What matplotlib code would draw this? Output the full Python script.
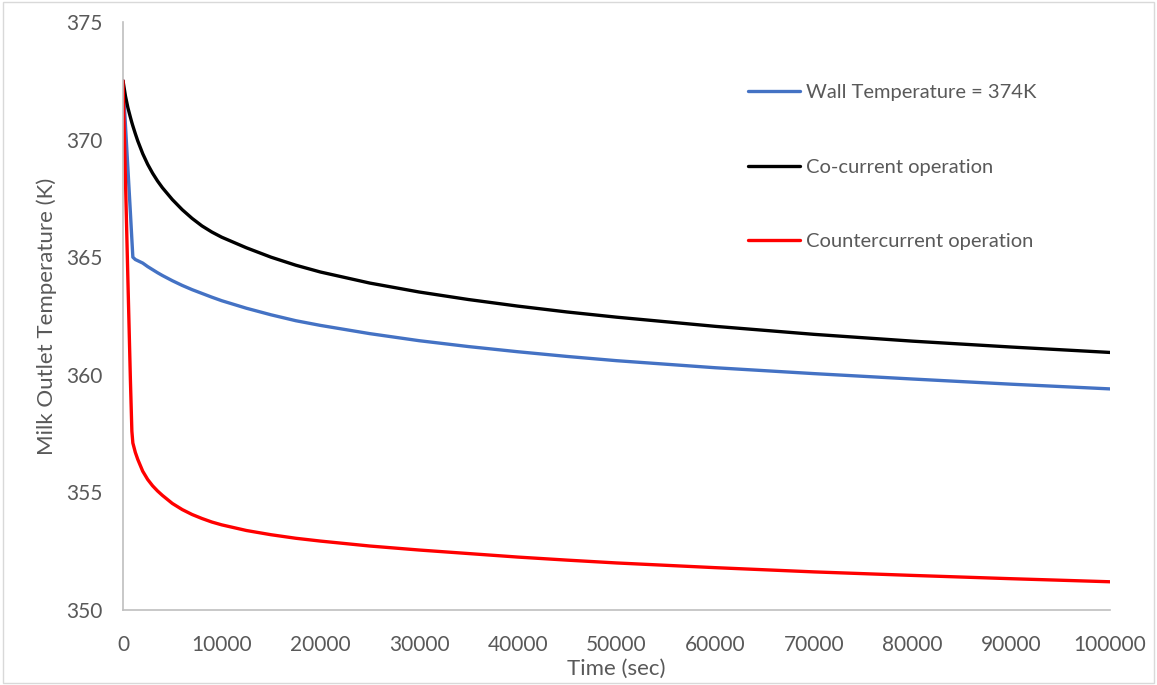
import matplotlib.pyplot as plt
from matplotlib.patches import Rectangle

# values
time_s = [0, 250, 500, 750, 900, 1000, 1250, 1500, 2000, 2500, 3000, 3500, 4000,
          5000, 6000, 7000, 8000, 9000, 10000, 12500, 15000, 17500, 20000, 25000,
          30000, 35000, 40000, 45000, 50000, 60000, 70000, 80000, 90000, 100000]

wall_temp = [372.5, 370.6, 368.75, 366.9, 365.75, 365.0, 364.9, 364.85, 364.75, 364.6,
             364.47, 364.34, 364.22, 364.0, 363.8, 363.62, 363.46, 363.3, 363.15,
             362.83, 362.55, 362.3, 362.1, 361.75, 361.45, 361.2, 360.98, 360.78,
             360.6, 360.3, 360.05, 359.82, 359.6, 359.4]

co_current = [372.5, 371.85, 371.35, 370.95, 370.72, 370.58, 370.25, 369.94, 369.4, 368.95,
              368.57, 368.24, 367.95, 367.45, 367.02, 366.65, 366.33, 366.07, 365.85,
              365.4, 365.0, 364.66, 364.37, 363.9, 363.52, 363.2, 362.92, 362.67,
              362.45, 362.06, 361.72, 361.43, 361.18, 360.95]

counter_current = [372.5, 368.3, 364.0, 359.8, 357.6, 357.1, 356.7, 356.4, 355.9, 355.55,
                   355.28, 355.06, 354.87, 354.53, 354.27, 354.06, 353.89, 353.74, 353.62,
                   353.38, 353.2, 353.05, 352.93, 352.72, 352.55, 352.4, 352.25, 352.12,
                   352.0, 351.8, 351.62, 351.47, 351.33, 351.2]

labels = ["Wall Temperature = 374K", "Co-current operation", "Countercurrent operation"]
colors = ["#4472C4", "#000000", "#FF0000"]

plt.rcParams["font.family"] = ["Lato", "DejaVu Sans"]
grey = "#595959"

fig = plt.figure(figsize=(11.57, 6.85), dpi=100)
ax = fig.add_axes([0.1063, 0.1095, 0.8531, 0.8584])

for series, lab, col in zip([wall_temp, co_current, counter_current], labels, colors):
    ax.plot(time_s, series, color=col, linewidth=2.4, label=lab,
            solid_joinstyle="round", solid_capstyle="round")

ax.set_xlim(0, 100000)
ax.set_ylim(350, 375)
ax.set_xticks(range(0, 100001, 10000))
ax.set_yticks(range(350, 376, 5))

for side in ["top", "right"]:
    ax.spines[side].set_visible(False)
for side in ["left", "bottom"]:
    ax.spines[side].set_color("#BFBFBF")
    ax.spines[side].set_linewidth(1.2)

ax.tick_params(axis="both", length=0, labelsize=15, labelcolor=grey)
ax.tick_params(axis="y", pad=15)
ax.tick_params(axis="x", pad=18)

ax.set_xlabel("Time (sec)", fontsize=16, color=grey, labelpad=3)
ax.set_ylabel("Milk Outlet Temperature (K)", fontsize=16, color=grey, labelpad=6)

leg = ax.legend(loc="upper left", bbox_to_anchor=(0.633, 0.894), frameon=False,
                fontsize=14.5, labelspacing=2.85, handlelength=2.6, handletextpad=0.3,
                borderpad=0, borderaxespad=0)
for t in leg.get_texts():
    t.set_color(grey)

fig.patches.append(Rectangle((0.003, 0.003), 0.994, 0.994, transform=fig.transFigure,
                             fill=False, edgecolor="#D9D9D9", linewidth=1))

fig.savefig("out.png", dpi=100)
